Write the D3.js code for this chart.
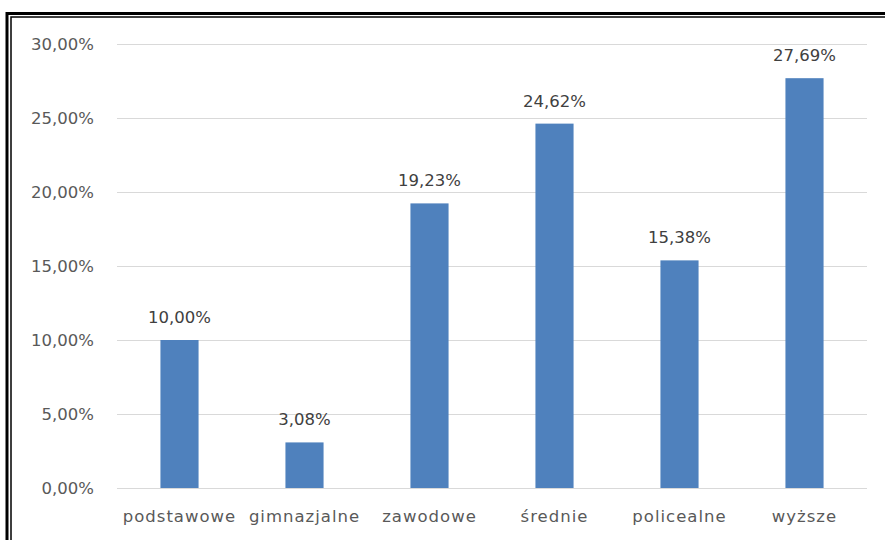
<!DOCTYPE html>
<html>
<head>
<meta charset="utf-8">
<script src="https://cdn.jsdelivr.net/npm/d3@7"></script>
<style>
  body { margin: 0; background: #fff; }
  svg { display: block; }
  text { font-family: "DejaVu Sans", sans-serif; fill: #595959; }
</style>
</head>
<body>
<svg id="chart" width="885" height="540"></svg>
<script>
// data
var categories = ["podstawowe", "gimnazjalne", "zawodowe", "średnie", "policealne", "wyższe"];
var values = [10.00, 3.08, 19.23, 24.62, 15.38, 27.69];
var ticks = [0, 5, 10, 15, 20, 25, 30];

var svg = d3.select("#chart");

var chart_left = 117, chart_right = 867;
var chart_top = 44, chart_bottom = 488;

// frame around the picture
svg.append("rect")
  .attr("x", 7).attr("y", 13.5)
  .attr("width", 900).attr("height", 600)
  .attr("fill", "none").attr("stroke", "#000").attr("stroke-width", 3);
svg.append("rect")
  .attr("x", 11).attr("y", 17)
  .attr("width", 900).attr("height", 600)
  .attr("fill", "none").attr("stroke", "#000").attr("stroke-width", 1.5);

var x = d3.scaleBand()
  .domain(categories)
  .range([chart_left, chart_right])
  .paddingInner(0.695)
  .paddingOuter(0.3475);

var y = d3.scaleLinear()
  .domain([0, 30])
  .range([chart_bottom, chart_top]);

var fmt = function(v) { return v.toFixed(2).replace(".", ",") + "%"; };

// gridlines
svg.append("g").selectAll("line")
  .data(ticks)
  .enter()
    .append("line")
    .attr("x1", chart_left)
    .attr("x2", chart_right)
    .attr("y1", function(d) { return Math.round(y(d)) + 0.5; })
    .attr("y2", function(d) { return Math.round(y(d)) + 0.5; })
    .attr("stroke", "#d9d9d9")
    .attr("stroke-width", 1);

// y tick labels
svg.append("g").selectAll("text")
  .data(ticks)
  .enter()
    .append("text")
    .attr("x", 94)
    .attr("y", function(d) { return y(d) + 6; })
    .attr("text-anchor", "end")
    .style("font-size", "16.5px")
    .text(function(d) { return fmt(d); });

// bars
var bars = svg.append("g").selectAll("g")
  .data(values)
  .enter()
    .append("g");

bars.append("rect")
  .attr("x", function(d, i) { return x(categories[i]); })
  .attr("y", function(d) { return y(d); })
  .attr("width", x.bandwidth())
  .attr("height", function(d) { return chart_bottom - y(d); })
  .attr("fill", "#4f81bd");

bars.append("text")
  .attr("x", function(d, i) { return x(categories[i]) + x.bandwidth() / 2; })
  .attr("y", function(d) { return y(d) - 17; })
  .attr("text-anchor", "middle")
  .style("font-size", "16.5px")
  .style("fill", "#404040")
  .text(function(d) { return fmt(d); });

// category labels
svg.append("g").selectAll("text")
  .data(categories)
  .enter()
    .append("text")
    .attr("x", function(d) { return x(d) + x.bandwidth() / 2; })
    .attr("y", 522)
    .attr("text-anchor", "middle")
    .style("font-size", "16.5px")
    .style("letter-spacing", "1px")
    .text(function(d) { return d; });
</script>
</body>
</html>
